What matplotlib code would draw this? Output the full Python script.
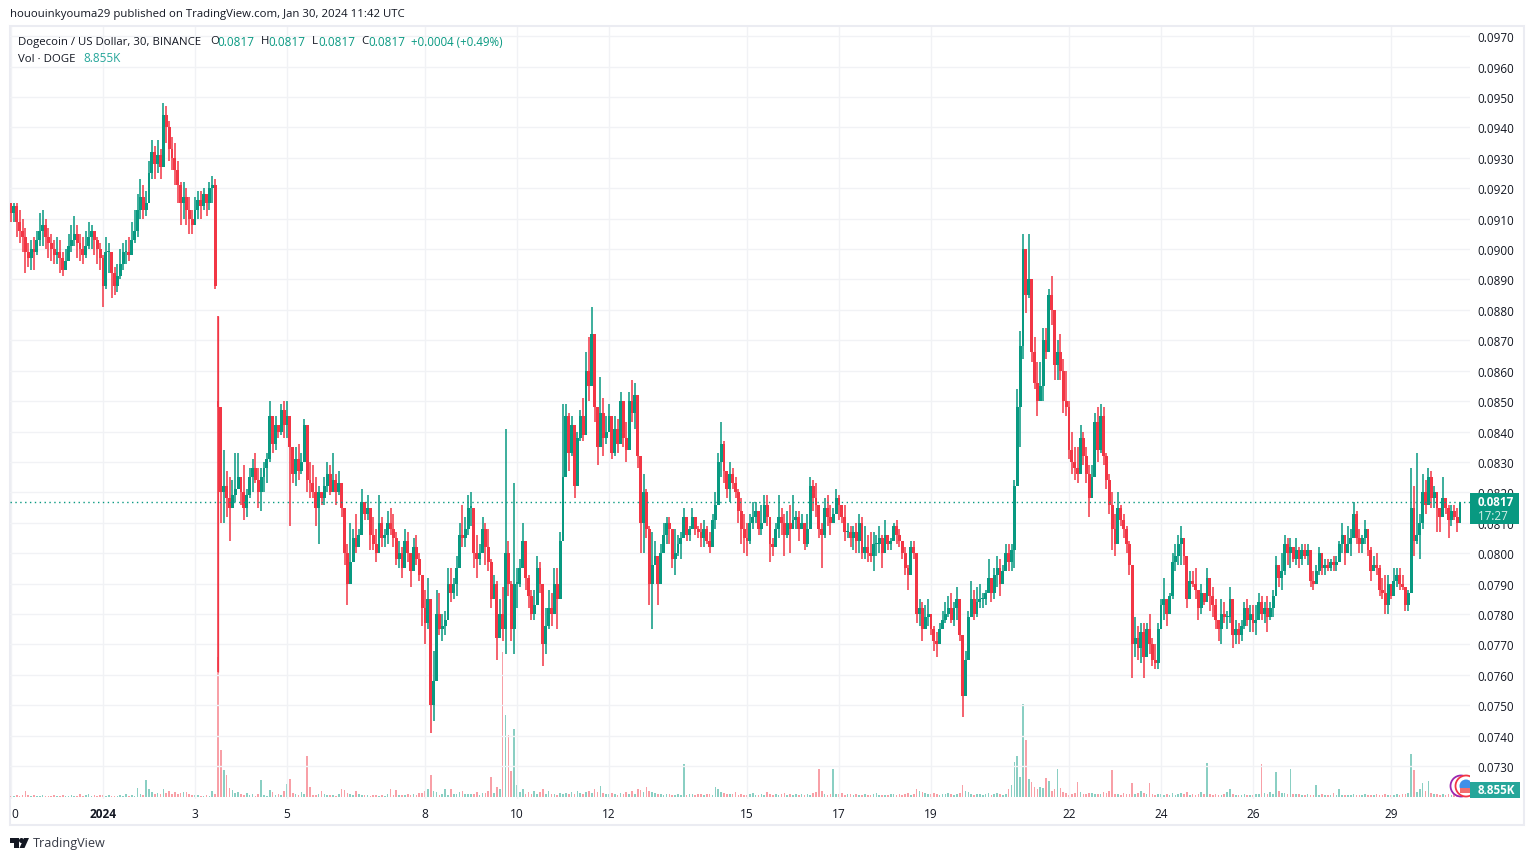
import matplotlib
matplotlib.use("Agg")
import matplotlib.pyplot as plt
from matplotlib.patches import Rectangle, Polygon, Ellipse
import numpy as np

plt.rcParams['font.family'] = ['Open Sans', 'DejaVu Sans']

# prices in 0.0001 DOGE/USD, 16 bars per day, one row per day from Dec 30
closes = [
    912,914,909,906,904,899,897,900,899,903,906,908,904,902,900,898,
    899,897,893,896,901,903,905,902,900,898,901,904,906,903,900,897,
    888,899,899,892,888,891,895,899,899,898,903,906,913,917,913,915,
    925,932,928,931,927,944,940,933,930,926,921,915,917,913,910,908,
    913,916,914,918,915,920,921,888,848,820,822,818,815,819,821,825,
    820,815,819,825,828,824,820,825,828,831,845,836,842,840,847,842,
    845,835,826,831,827,830,842,824,823,820,815,820,818,822,826,820,
    824,820,823,815,800,790,797,805,802,806,817,813,815,806,803,800,
    810,805,806,810,808,805,798,800,795,804,800,794,802,798,793,782,
    777,785,750,758,780,775,776,778,790,787,790,795,806,805,808,815,
    815,800,798,800,808,802,797,785,790,772,780,775,800,790,775,790,
    790,795,804,792,786,780,783,795,790,770,776,782,780,790,785,804,
    825,845,833,842,822,838,845,839,860,855,872,848,835,846,838,840,
    845,833,841,836,850,838,834,850,846,852,832,810,820,808,790,796,
    799,790,800,806,810,808,798,800,803,805,812,806,808,812,808,807,
    805,808,804,802,811,816,830,836,827,821,826,823,820,814,808,805,
    804,810,812,814,808,810,816,812,803,802,808,812,810,806,810,808,
    811,812,808,810,803,808,822,818,816,808,806,815,812,810,813,818,
    816,812,807,807,805,807,804,810,800,802,800,799,803,803,805,800,
    806,803,804,809,806,804,800,795,793,802,800,780,782,775,779,780,
    775,771,770,775,778,780,782,778,782,785,773,753,765,779,785,780,
    784,785,785,787,792,787,793,795,790,794,800,797,801,822,848,868,
    900,885,890,866,856,850,855,870,866,885,880,862,866,860,850,848,
    834,830,828,826,838,832,826,818,825,843,834,845,832,824,816,808,
    803,815,811,808,803,796,770,772,769,774,766,775,770,765,764,775,
    783,785,780,786,797,799,803,805,799,785,791,790,788,782,787,784,
    792,786,783,778,775,780,779,779,785,773,775,773,776,782,778,780,
    777,778,784,780,782,779,782,786,796,792,794,803,800,802,798,801,
    798,801,799,801,791,790,794,800,795,796,795,797,796,797,803,806,
    800,803,805,813,805,803,805,808,801,794,796,795,788,787,783,790,
    786,791,793,790,789,783,787,815,804,806,810,820,816,825,818,820,
    815,812,818,815,811,814,812,810,817,
]
highs = [
    915,915,915,913,910,907,902,903,904,906,912,913,910,907,905,903,
    904,903,899,900,905,908,911,908,905,904,906,909,908,906,904,902,
    898,904,902,897,894,895,900,902,903,904,909,913,918,923,921,919,
    929,936,934,936,933,948,947,942,937,935,929,922,922,920,917,913,
    917,919,919,920,917,922,924,923,878,841,834,827,825,824,833,833,
    825,829,821,828,831,833,828,828,830,833,850,844,845,842,849,850,
    850,839,833,835,836,833,844,842,830,829,825,822,820,825,830,829,
    833,826,827,822,807,803,810,808,813,808,821,817,819,813,812,808,
    819,812,808,814,815,813,807,804,802,808,807,800,805,806,800,791,
    788,792,768,768,788,787,780,781,795,795,792,799,810,816,812,819,
    820,810,806,803,812,810,808,798,793,791,785,789,841,804,791,823,
    795,798,810,803,793,788,788,799,797,786,782,788,787,795,795,807,
    849,849,846,845,834,840,847,851,866,871,881,866,847,858,851,845,
    849,838,845,844,853,846,843,853,857,856,840,832,826,821,809,807,
    804,797,803,810,812,812,805,808,806,807,815,812,809,815,812,809,
    810,811,809,807,813,820,833,843,837,826,830,828,825,821,818,813,
    810,813,817,817,810,816,819,819,810,805,810,819,815,813,814,816,
    819,814,814,813,804,813,825,824,823,815,810,818,819,816,815,821,
    819,816,816,810,809,809,810,813,812,809,806,807,807,806,809,806,
    811,805,805,810,811,808,803,802,796,804,804,791,785,784,783,785,
    779,776,774,777,781,784,786,787,784,789,783,763,768,781,791,788,
    789,790,787,788,798,791,795,799,798,796,803,803,803,824,854,873,
    905,900,905,880,871,863,863,874,874,887,891,877,870,872,864,860,
    850,840,835,835,842,840,835,829,829,846,848,849,848,833,826,820,
    813,820,816,813,809,804,796,779,776,777,777,777,780,772,770,777,
    785,792,785,787,800,803,806,809,805,799,794,794,795,788,790,787,
    795,792,789,785,778,785,784,781,789,785,778,777,778,784,785,783,
    783,783,787,786,784,786,784,788,799,796,800,806,805,805,801,805,
    802,803,803,803,798,794,796,802,800,798,798,798,799,799,804,810,
    805,809,808,817,814,808,806,811,807,802,799,800,796,792,793,793,
    790,795,795,795,793,789,788,828,822,833,813,826,824,828,827,822,
    820,814,825,818,816,816,816,815,817,
]
lows = [
    909,909,904,902,899,892,894,893,893,898,901,901,900,897,896,895,
    895,892,891,893,897,899,901,897,896,895,897,900,900,898,895,893,
    881,887,892,884,885,886,890,893,895,896,898,902,904,910,910,911,
    918,923,923,925,923,928,935,929,926,921,915,908,910,908,905,905,
    908,910,910,913,911,913,915,887,761,810,810,812,804,815,817,821,
    816,811,812,818,820,823,815,814,820,823,830,833,834,838,839,838,
    838,809,823,822,824,826,832,820,818,818,809,803,816,816,820,819,
    821,816,819,812,796,783,794,800,800,802,811,811,811,801,801,797,
    808,802,802,803,806,802,796,795,792,799,797,789,798,796,791,776,
    770,775,741,745,768,773,771,773,779,784,785,786,801,802,802,806,
    809,795,792,796,800,796,794,782,785,765,776,771,767,786,771,767,
    782,789,798,788,782,778,778,788,787,763,767,775,776,784,775,786,
    821,825,827,832,818,826,837,837,853,850,865,843,829,838,832,836,
    841,831,832,833,842,835,830,842,843,841,828,800,800,805,783,775,
    796,783,795,800,803,803,795,793,799,798,806,804,804,808,806,805,
    802,802,803,800,803,808,816,825,823,818,817,821,818,810,803,800,
    799,803,808,810,806,806,812,809,797,799,805,805,806,799,805,800,
    809,808,804,808,801,802,808,814,812,805,795,805,809,806,810,813,
    811,810,804,805,802,801,800,800,798,798,797,797,794,799,800,795,
    801,801,801,804,803,802,798,793,788,797,798,777,776,771,775,776,
    773,768,766,772,775,777,779,777,776,778,771,746,757,775,781,778,
    779,782,782,783,787,784,785,789,786,790,794,794,794,795,829,835,
    864,879,884,863,854,845,850,850,864,870,875,857,857,857,846,845,
    831,826,824,823,826,829,823,812,819,831,830,833,829,821,813,801,
    799,806,809,805,800,793,759,766,765,764,759,768,767,763,762,762,
    776,778,776,780,785,794,796,796,796,782,785,789,785,778,780,783,
    787,781,779,775,771,770,777,775,777,769,770,770,771,775,776,774,
    774,773,778,778,777,774,778,779,787,789,788,793,796,795,797,796,
    795,796,798,796,789,788,790,793,793,793,794,794,794,794,798,800,
    796,800,799,805,803,800,800,803,799,791,794,793,786,785,780,780,
    785,786,789,788,788,781,781,787,799,803,798,808,813,817,815,815,
    807,807,812,813,805,809,811,807,810,
]
vols = [
    1,1,2,1,2,6,2,1,2,1,1,2,1,1,1,2,
    1,1,2,1,1,2,1,1,3,1,2,3,1,2,1,2,
    2,1,2,1,1,1,2,1,3,1,2,1,9,3,2,17,
    8,5,3,4,3,8,4,6,3,5,3,4,5,5,3,2,
    2,2,1,1,2,1,6,3,140,47,27,22,9,7,4,5,
    3,2,4,2,3,1,3,17,2,1,7,5,2,3,2,6,
    13,18,4,3,2,5,3,41,10,2,2,3,6,3,2,2,
    2,1,3,8,7,4,3,2,6,3,2,2,2,1,2,2,
    1,2,1,3,8,2,7,2,2,2,3,2,3,2,4,4,
    6,8,22,6,5,2,3,8,2,8,3,3,5,6,3,3,
    3,3,5,2,4,4,6,20,4,10,8,145,82,62,26,68,
    12,5,8,3,5,3,6,3,5,8,3,6,3,3,2,4,
    3,4,3,5,3,6,4,3,5,6,4,8,5,11,4,3,
    3,4,3,2,4,3,5,3,6,3,8,7,5,10,6,5,
    4,3,3,2,3,3,2,2,3,2,33,2,3,3,2,3,
    3,2,3,3,2,10,8,5,4,3,3,3,5,2,3,2,
    2,3,4,2,2,3,2,5,3,2,3,2,3,4,2,3,
    2,3,2,3,2,3,2,4,5,28,6,3,2,3,28,3,
    3,4,2,3,3,2,3,2,2,3,2,2,3,4,2,2,
    2,2,3,3,2,3,2,3,4,2,3,8,6,5,4,3,
    3,4,3,2,3,3,4,3,2,3,4,12,6,5,3,2,
    3,3,2,3,4,2,3,4,3,2,3,8,12,35,41,20,
    93,57,18,15,10,8,10,9,19,16,6,8,28,9,5,4,
    2,3,4,15,5,3,3,4,4,3,3,3,5,4,6,27,
    3,3,2,4,3,3,14,3,4,6,4,3,14,3,2,3,
    3,2,3,2,4,2,3,4,3,5,2,3,2,3,5,3,
    34,3,2,3,2,2,3,5,8,3,2,2,2,3,2,2,
    2,3,3,33,4,3,5,3,25,6,4,4,3,28,3,3,
    3,2,2,3,2,2,12,2,3,2,2,2,4,2,8,2,
    2,2,2,3,2,2,2,3,2,2,2,3,2,2,3,2,
    2,2,3,2,3,3,4,43,27,5,8,14,6,16,4,3,
    3,2,3,2,3,2,3,2,2,
]
first_open = 915
# the Jan 3 flush opens well below the previous close
gap_bars = [72]
gap_opens = [850]

last_price = 817
price_ticks = list(range(730, 980, 10))
day_ticks = [0, 2, 4, 6, 9, 11, 13, 16, 18, 20, 23, 25, 27, 30]
day_labels = ['0', '2024', '3', '5', '8', '10', '12', '15', '17', '19', '22', '24', '26', '29']

UP = '#089981'
DOWN = '#f23645'
GRID = '#f1f2f5'
TEXT = '#131722'
W, H = 1534, 862

def fx(x):
    return x / W

def fy(y):
    return 1 - y / H

fig = plt.figure(figsize=(W / 100, H / 100), dpi=100, facecolor='white')
fig.add_artist(Rectangle((fx(10), fy(826)), fx(1514), 799 / H, transform=fig.transFigure,
                         fill=False, edgecolor='#ebecf2', linewidth=1.5, zorder=0))

vol_ax = fig.add_axes([fx(10), fy(800), fx(1460), 772 / H], zorder=1)
ax = fig.add_axes([fx(10), fy(800), fx(1460), 772 / H], zorder=2)
ax.patch.set_visible(False)

xlim = (-1 / 46, 1459 / 46)
closes = np.array(closes) / 1e4
highs = np.array(highs) / 1e4
lows = np.array(lows) / 1e4
opens = np.r_[first_open / 1e4, closes[:-1]]
opens[gap_bars] = np.array(gap_opens) / 1e4
t = np.arange(len(closes)) / 16
up = closes >= opens
colors = np.where(up, UP, DOWN)

# volume sits underneath the candles
vol_ax.bar(t, vols, width=1.7 / 46, color=colors, alpha=0.47, linewidth=0)
vol_ax.set_xlim(xlim)
vol_ax.set_ylim(-2, 770)
vol_ax.axis('off')

# wicks and bodies nearly fill each bar slot, the original packs 30 min bars at 1 px
ax.vlines(t, lows, highs, colors=colors, linewidth=1.1, zorder=3)
ax.bar(t, np.maximum(np.abs(closes - opens), 0.00004), bottom=np.minimum(opens, closes),
       width=2.9 / 46, color=colors, linewidth=0, zorder=3)
# the flush bar is a single thin line in the original
ax.vlines(t[gap_bars], lows[gap_bars], highs[gap_bars], colors=DOWN, linewidth=0.9, zorder=4)
ax.axhline(last_price / 1e4, color=UP, linewidth=1, linestyle=(0, (1, 2.5)), zorder=4)

ax.set_xlim(xlim)
ax.set_ylim(0.07192, 0.0973)
for s in ax.spines.values():
    s.set_visible(False)
ax.yaxis.tick_right()
ax.set_yticks([p / 1e4 for p in price_ticks])
ax.set_yticklabels([f'{p / 1e4:.4f}' for p in price_ticks])
ax.set_xticks(day_ticks)
ax.set_xticklabels(day_labels)
ax.tick_params(axis='both', length=0, labelcolor=TEXT)
ax.tick_params(axis='y', pad=5.4, labelsize=8.4)
ax.tick_params(axis='x', pad=5.5, labelsize=8.6)
ax.grid(True, color=GRID, linewidth=1)
ax.set_axisbelow(True)
ax.get_xticklabels()[0].set_ha('left')
ax.get_xticklabels()[1].set_fontweight('bold')

# header and legend
fig.text(fx(10), fy(15), 'hououinkyouma29 published on TradingView.com, Jan 30, 2024 11:42 UTC',
         fontsize=8.2, color=TEXT, va='center')
legend_y = fy(42)
fig.text(fx(18), legend_y, 'Dogecoin / US Dollar, 30, BINANCE', fontsize=8.2, color=TEXT, va='center')
for lx, vx, lab in [(210, 217, 'O'), (261, 268, 'H'), (312, 318, 'L'), (361, 368, 'C')]:
    fig.text(fx(lx), legend_y, lab, fontsize=8.2, color=TEXT, va='center')
    fig.text(fx(vx), legend_y, '0.0817', fontsize=8.5, color=UP, va='center')
fig.text(fx(411), legend_y, '+0.0004 (+0.49%)', fontsize=8.3, color=UP, va='center')
fig.text(fx(18), fy(59), 'Vol · DOGE', fontsize=8.2, color=TEXT, va='center')
fig.text(fx(83), fy(59), '8.855K', fontsize=8.5, color='#26a69a', va='center')

# price and volume tags on the scale
fig.add_artist(Rectangle((fx(1470), fy(525)), fx(49), 31 / H, transform=fig.transFigure,
                         facecolor=UP, edgecolor='none', zorder=10))
fig.text(fx(1496), fy(503), '0.0817', fontsize=8.4, fontweight='bold', color='white',
         ha='center', va='center', zorder=11)
fig.text(fx(1493), fy(517), '17:27', fontsize=8.4, color='#d5efe9', ha='center', va='center', zorder=11)
fig.add_artist(Rectangle((fx(1470), fy(799)), fx(50), 16 / H, transform=fig.transFigure,
                         facecolor='#26a69a', edgecolor='none', zorder=10))
fig.text(fx(1496), fy(791), '8.855K', fontsize=8.4, fontweight='bold', color='white',
         ha='center', va='center', zorder=11)

# event badges, cut off by the price scale
pane_clip = Rectangle((fx(1440), fy(800)), fx(30), 30 / H, transform=fig.transFigure)
for cx, r, fc, ec in [(1461, 10.5, 'white', '#9c27b0'), (1466, 10.5, 'white', '#f23645'), (1466, 6.5, '#3f8fe8', 'none')]:
    c = Ellipse((fx(cx), fy(787)), 2 * r / W, 2 * r / H, transform=fig.transFigure,
                facecolor=fc, edgecolor=ec, linewidth=1.3, zorder=8)
    fig.add_artist(c)
    c.set_clip_path(pane_clip)
fig.add_artist(Rectangle((fx(1460), fy(794)), fx(10), 5 / H, transform=fig.transFigure,
                         facecolor='#f26d6d', edgecolor='none', zorder=9))

# TradingView logo
logo = [
    [(10, 839), (19, 839), (19, 849), (14, 849), (14, 844), (10, 844)],
    [(24, 839), (29, 839), (24.5, 849), (19.5, 849)],
]
for pts in logo:
    fig.add_artist(Polygon([(fx(a), fy(b)) for a, b in pts], transform=fig.transFigure,
                           facecolor=TEXT, edgecolor='none'))
fig.add_artist(Ellipse((fx(21.5), fy(841.5)), 5 / W, 5 / H, transform=fig.transFigure,
                       facecolor=TEXT, edgecolor='none'))
fig.text(fx(33), fy(844), 'TradingView', fontsize=9.1, color='#363a45', va='center')

fig.savefig('out.png', dpi=100)
